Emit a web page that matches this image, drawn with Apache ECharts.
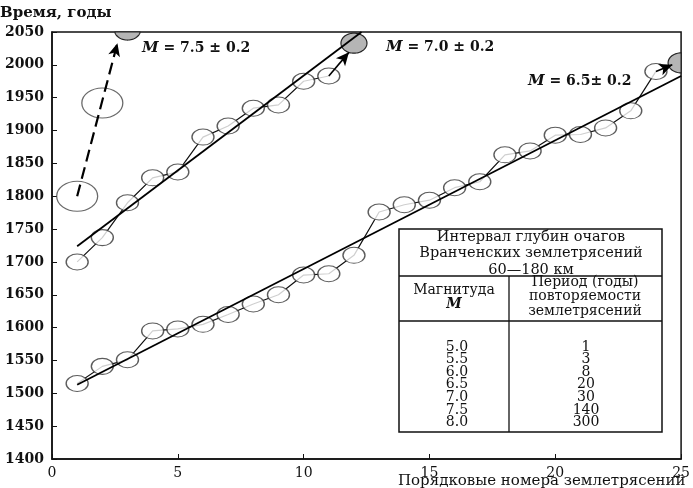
<!DOCTYPE html>
<html>
<head>
<meta charset="utf-8">
<script src="https://cdn.jsdelivr.net/npm/echarts@6/dist/echarts.min.js"></script>
<style>html,body{margin:0;padding:0;background:#fff}#c{width:693px;height:488px}</style>
</head>
<body>
<div id="c"></div>
<script>
// ---- data ----
var xTicks = [0, 5, 10, 15, 20, 25];
// M = 6.5 ± 0.2 : earthquakes 1..24 (25th shaded, forecast)
var seriesM65 = [1515, 1541, 1551, 1595, 1598, 1605, 1620, 1636, 1650, 1680, 1682, 1710,
                 1776, 1787, 1794, 1813, 1822, 1863, 1869, 1893, 1894, 1904, 1930, 1990];
var forecastM65 = [25, 2003];
var fitM65 = [[1, 1513], [25, 1983]];
// M = 7.0 ± 0.2 : earthquakes 1..11 (12th shaded)
var seriesM70 = [1700, 1737, 1790, 1828, 1837, 1890, 1907, 1934, 1939, 1975, 1983];
var forecastM70 = [12, 2033];
var fitM70 = [[1, 1724], [12.3, 2050]];
// M = 7.5 ± 0.2 : earthquakes 1..2 (3rd shaded)
var seriesM75 = [1800, 1942];
var forecastM75 = [3, 2053];
var arrowM75 = [[1, 1800], [2.6, 2033]];
var arrowM70 = [[11, 1983], [11.8, 2019]];
var arrowM65 = [[24, 1990], [24.65, 2000]];
// table
var tableTitle = ['Интервал глубин очагов', 'Вранченских землетрясений', '60—180 км'];
var magnitudes = ['5.0', '5.5', '6.0', '6.5', '7.0', '7.5', '8.0'];
var periods = ['1', '3', '8', '20', '30', '140', '300'];
var xMin = 0, xMax = 25, yMin = 1400, yMax = 2050;

function pts(arr) { return arr.map(function (v, i) { return [i + 1, v]; }); }

var serif = 'DejaVu Serif';
var chart = echarts.init(document.getElementById('c'));

function shadedSeries(pt, z) {
  return {
    type: 'custom', z: z,
    data: [pt],
    renderItem: function (params, api) {
      var p = api.coord([api.value(0), api.value(1)]);
      var tl = api.coord([xMin, yMax]);
      var br = api.coord([xMax, yMin]);
      var poly = [];
      for (var k = 0; k < 72; k++) {
        var a = k / 72 * Math.PI * 2;
        var x = p[0] + 13 * Math.cos(a), y = p[1] + 10 * Math.sin(a);
        x = Math.min(Math.max(x, tl[0]), br[0]);
        y = Math.min(Math.max(y, tl[1]), br[1]);
        poly.push([x, y]);
      }
      return { type: 'polygon', shape: { points: poly },
               style: { fill: '#b5b5b5', stroke: '#222', lineWidth: 1.2 } };
    }
  };
}

function arrowLine(coords, dashed) {
  return {
    silent: true, symbol: ['none', 'arrow'], symbolSize: [9, 13],
    label: { show: false },
    lineStyle: { color: '#000', width: dashed ? 2.2 : 1.6, type: dashed ? [12, 6] : 'solid' },
    data: [[{ coord: coords[0] }, { coord: coords[1] }]]
  };
}

var circleStyle = { color: '#fff', borderColor: '#333', borderWidth: 1.2 };

var rowY0 = 347, rowStep = 12.6;
var tableEls = [
  { type: 'rect', shape: { x: 399, y: 229, width: 263, height: 203 },
    style: { fill: '#fff', stroke: '#111', lineWidth: 1.5 } },
  { type: 'line', shape: { x1: 399, y1: 276, x2: 662, y2: 276 }, style: { stroke: '#111', lineWidth: 1.3 } },
  { type: 'line', shape: { x1: 399, y1: 321, x2: 662, y2: 321 }, style: { stroke: '#111', lineWidth: 1.3 } },
  { type: 'line', shape: { x1: 509, y1: 276, x2: 509, y2: 432 }, style: { stroke: '#111', lineWidth: 1.3 } }
];
tableTitle.forEach(function (t, i) {
  tableEls.push({ type: 'text', x: 531, y: 237 + i * 16.5,
    style: { text: t, font: '14.5px "' + serif + '"', fill: '#111', align: 'center', verticalAlign: 'middle' } });
});
tableEls.push({ type: 'text', x: 454, y: 290, style: { text: 'Магнитуда', font: '14px "' + serif + '"', fill: '#111', align: 'center', verticalAlign: 'middle' } });
tableEls.push({ type: 'text', x: 454, y: 304, style: { text: 'M', font: 'italic bold 14px "' + serif + '"', fill: '#111', align: 'center', verticalAlign: 'middle' } });
['Период (годы)', 'повторяемости', 'землетрясений'].forEach(function (t, i) {
  tableEls.push({ type: 'text', x: 585, y: 282 + i * 14.5,
    style: { text: t, font: '14px "' + serif + '"', fill: '#111', align: 'center', verticalAlign: 'middle' } });
});
magnitudes.forEach(function (m, i) {
  tableEls.push({ type: 'text', x: 457, y: rowY0 + i * rowStep,
    style: { text: m, font: '14px "' + serif + '"', fill: '#111', align: 'center', verticalAlign: 'middle' } });
  tableEls.push({ type: 'text', x: 586, y: rowY0 + i * rowStep,
    style: { text: periods[i], font: '14px "' + serif + '"', fill: '#111', align: 'center', verticalAlign: 'middle' } });
});

function mLabel(txt, x, y) {
  return { type: 'text', x: x, y: y, z: 50,
    style: { text: '{i|M} = ' + txt, font: 'bold 14px "' + serif + '"', fill: '#111', verticalAlign: 'middle',
             rich: { i: { fontStyle: 'italic', fontWeight: 'bold', fontSize: 15, fontFamily: serif } } } };
}

var option = {
  backgroundColor: '#fff',
  animation: false,
  grid: { left: 52, right: 8, top: 32, bottom: 29, show: true, borderColor: '#111', borderWidth: 1.5 },
  xAxis: {
    type: 'value', min: xMin, max: xMax, interval: 5,
    axisLine: { lineStyle: { color: '#111', width: 1.5 } },
    axisTick: { inside: true, length: 5, lineStyle: { color: '#111' } },
    axisLabel: { color: '#111', fontFamily: serif, fontSize: 14, margin: 7 },
    splitLine: { show: false }
  },
  yAxis: {
    type: 'value', min: yMin, max: yMax, interval: 50,
    axisLine: { show: true, lineStyle: { color: '#111', width: 1.5 } },
    axisTick: { show: true, inside: true, length: 5, lineStyle: { color: '#111' } },
    axisLabel: { color: '#111', fontFamily: serif, fontSize: 14, fontWeight: 'bold', margin: 8,
                 formatter: function (v) { return String(v); } },
    splitLine: { show: false }
  },
  series: [
    // connecting lines
    { type: 'line', data: pts(seriesM65), symbol: 'none', z: 2, lineStyle: { color: '#111', width: 1.2 },
      markLine: arrowLine(arrowM65, false) },
    { type: 'line', data: pts(seriesM70), symbol: 'none', z: 2, lineStyle: { color: '#111', width: 1.2 },
      markLine: arrowLine(arrowM70, false) },
    { type: 'line', data: [], symbol: 'none', z: 6, markLine: arrowLine(arrowM75, true) },
    // circles
    { type: 'scatter', data: pts(seriesM65), symbol: 'circle', symbolSize: [22, 16], z: 3, itemStyle: circleStyle },
    { type: 'scatter', data: pts(seriesM70), symbol: 'circle', symbolSize: [22, 16], z: 3, itemStyle: circleStyle },
    { type: 'scatter', data: pts(seriesM75), symbol: 'circle', symbolSize: [41, 30], z: 3,
      itemStyle: { color: 'rgba(255,255,255,0)', borderColor: '#444', borderWidth: 1.1 } },
    shadedSeries(forecastM65, 4),
    shadedSeries(forecastM70, 4),
    shadedSeries(forecastM75, 4),
    // regression lines
    { type: 'line', data: fitM65, symbol: 'none', z: 5, lineStyle: { color: '#000', width: 1.8 } },
    { type: 'line', data: fitM70, symbol: 'none', z: 5, lineStyle: { color: '#000', width: 1.8 } }
  ],
  graphic: [
    { type: 'text', left: 0, top: 6, style: { text: 'Время, годы', font: 'bold 15px "' + serif + '"', fill: '#111' } },
    { type: 'text', left: 398, top: 474, style: { text: 'Порядковые номера землетрясений', font: '15px "' + serif + '"', fill: '#111' } },
    mLabel('7.5 ± 0.2', 142, 48),
    mLabel('7.0 ± 0.2', 386, 47),
    mLabel('6.5± 0.2', 528, 81),
    { type: 'group', z: 40, children: tableEls }
  ]
};
chart.setOption(option);
</script>
</body>
</html>
